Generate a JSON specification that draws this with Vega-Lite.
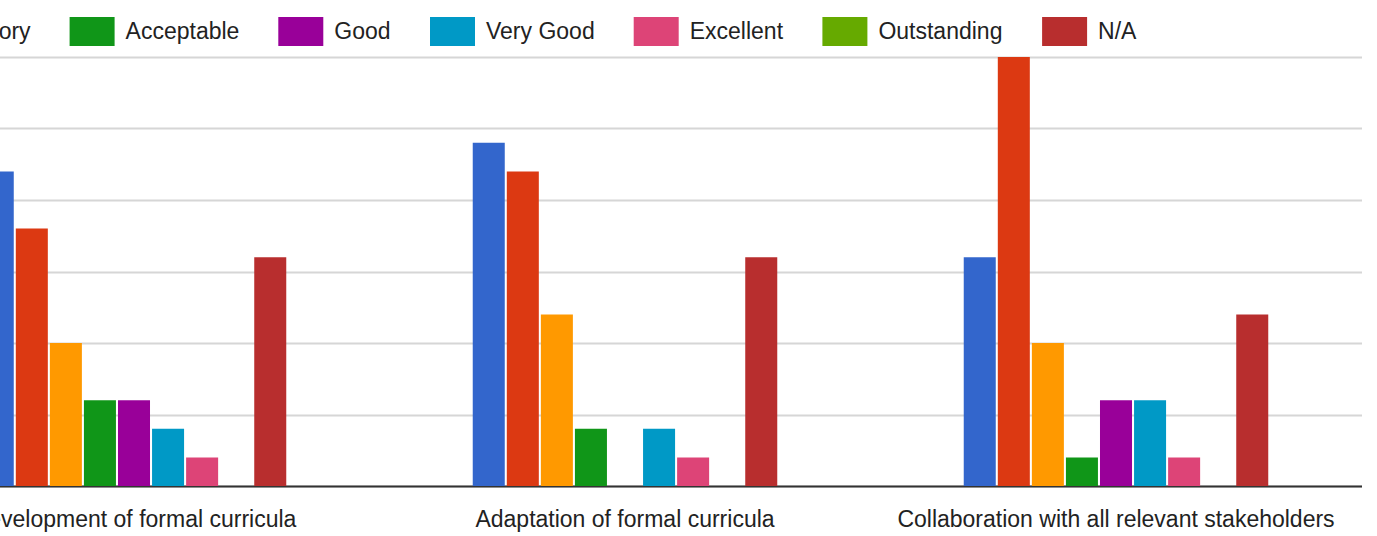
{
  "$schema": "https://vega.github.io/schema/vega-lite/v6.json",
  "autosize": "none",
  "width": 1473,
  "height": 429,
  "padding": {"left": -111.5, "top": 57, "right": 15.5, "bottom": 50},
  "background": "white",
  "config": {
    "view": {"stroke": null},
    "font": "Liberation Sans"
  },
  "data": {
    "values": [
      {"item": "Development of formal curricula", "rating": "Very Weak", "count": 11},
      {"item": "Development of formal curricula", "rating": "Weak", "count": 9},
      {"item": "Development of formal curricula", "rating": "Unsatisfactory", "count": 5},
      {"item": "Development of formal curricula", "rating": "Acceptable", "count": 3},
      {"item": "Development of formal curricula", "rating": "Good", "count": 3},
      {"item": "Development of formal curricula", "rating": "Very Good", "count": 2},
      {"item": "Development of formal curricula", "rating": "Excellent", "count": 1},
      {"item": "Development of formal curricula", "rating": "Outstanding", "count": 0},
      {"item": "Development of formal curricula", "rating": "N/A", "count": 8},
      {"item": "Adaptation of formal curricula", "rating": "Very Weak", "count": 12},
      {"item": "Adaptation of formal curricula", "rating": "Weak", "count": 11},
      {"item": "Adaptation of formal curricula", "rating": "Unsatisfactory", "count": 6},
      {"item": "Adaptation of formal curricula", "rating": "Acceptable", "count": 2},
      {"item": "Adaptation of formal curricula", "rating": "Good", "count": 0},
      {"item": "Adaptation of formal curricula", "rating": "Very Good", "count": 2},
      {"item": "Adaptation of formal curricula", "rating": "Excellent", "count": 1},
      {"item": "Adaptation of formal curricula", "rating": "Outstanding", "count": 0},
      {"item": "Adaptation of formal curricula", "rating": "N/A", "count": 8},
      {"item": "Collaboration with all relevant stakeholders", "rating": "Very Weak", "count": 8},
      {"item": "Collaboration with all relevant stakeholders", "rating": "Weak", "count": 15},
      {"item": "Collaboration with all relevant stakeholders", "rating": "Unsatisfactory", "count": 5},
      {"item": "Collaboration with all relevant stakeholders", "rating": "Acceptable", "count": 1},
      {"item": "Collaboration with all relevant stakeholders", "rating": "Good", "count": 3},
      {"item": "Collaboration with all relevant stakeholders", "rating": "Very Good", "count": 3},
      {"item": "Collaboration with all relevant stakeholders", "rating": "Excellent", "count": 1},
      {"item": "Collaboration with all relevant stakeholders", "rating": "Outstanding", "count": 0},
      {"item": "Collaboration with all relevant stakeholders", "rating": "N/A", "count": 6}
    ]
  },
  "mark": {"type": "bar"},
  "encoding": {
    "x": {
      "field": "item",
      "type": "nominal",
      "sort": null,
      "scale": {"paddingInner": 0.3798, "paddingOuter": 0.1899},
      "axis": {
        "title": null,
        "labelAngle": 0,
        "ticks": false,
        "domainColor": "#333333",
        "domainWidth": 2,
        "labelFontSize": 23,
        "labelColor": "#222222",
        "labelPadding": 22,
        "labelLimit": 0
      }
    },
    "xOffset": {
      "field": "rating",
      "type": "nominal",
      "sort": ["Very Weak", "Weak", "Unsatisfactory", "Acceptable", "Good", "Very Good", "Excellent", "Outstanding", "N/A"],
      "scale": {"paddingInner": 0.06, "paddingOuter": 0}
    },
    "y": {
      "field": "count",
      "type": "quantitative",
      "scale": {"domain": [0, 15], "nice": false},
      "axis": {
        "title": null,
        "labels": false,
        "ticks": false,
        "domain": false,
        "values": [0, 2.5, 5, 7.5, 10, 12.5, 15],
        "gridColor": "#d6d6d6",
        "gridWidth": 2
      }
    },
    "color": {
      "field": "rating",
      "type": "nominal",
      "scale": {
        "domain": ["Very Weak", "Weak", "Unsatisfactory", "Acceptable", "Good", "Very Good", "Excellent", "Outstanding", "N/A"],
        "range": ["#3366cc", "#dc3912", "#ff9900", "#109618", "#990099", "#0099c6", "#dd4477", "#66aa00", "#b82e2e"]
      },
      "legend": {
        "title": null,
        "orient": "none",
        "direction": "horizontal",
        "legendX": -419,
        "legendY": -48,
        "symbolType": "M-1,-0.644L1,-0.644L1,0.644L-1,0.644Z",
        "symbolSize": 2025,
        "symbolStrokeWidth": 0,
        "symbolOpacity": 1,
        "labelFontSize": 23,
        "labelColor": "#222222",
        "labelOffset": 11,
        "columnPadding": 38.7,
        "labelLimit": 0
      }
    }
  }
}
